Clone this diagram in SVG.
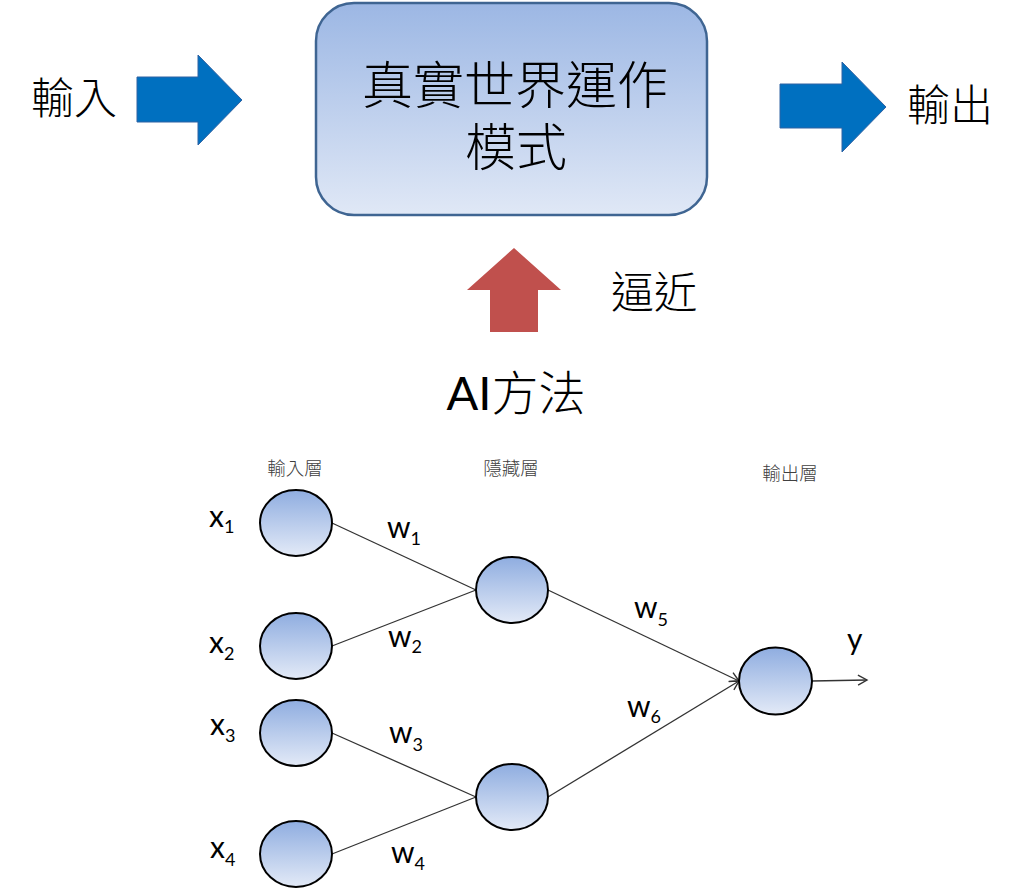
<svg xmlns="http://www.w3.org/2000/svg" width="1024" height="892" viewBox="0 0 1024 892">
<defs>
<linearGradient id="boxGrad" x1="0" y1="0" x2="0" y2="1">
<stop offset="0" stop-color="#9cb7e4"/>
<stop offset="1" stop-color="#e0e8f6"/>
</linearGradient>
<linearGradient id="nodeGrad" x1="0" y1="0" x2="0" y2="1">
<stop offset="0" stop-color="#8fade0"/>
<stop offset="1" stop-color="#e3eaf7"/>
</linearGradient>
<marker id="arr" markerWidth="12" markerHeight="12" refX="10" refY="6" orient="auto" markerUnits="userSpaceOnUse">
<path d="M1,1 L10,6 L1,11" fill="none" stroke="#333" stroke-width="1.4"/>
</marker>
</defs>
<style>
.cjk{font-family:"Noto Sans CJK TC","Noto Sans CJK SC",sans-serif;font-weight:300;fill:#000}
.lat{font-family:Lato,"Noto Sans CJK TC",sans-serif;fill:#000}
.hdr{font-family:"Noto Sans CJK TC",sans-serif;font-weight:300;font-size:18.5px;fill:#404040;text-anchor:middle}
.node{fill:url(#nodeGrad);stroke:#000;stroke-width:2}
.edge{stroke:#333;stroke-width:1.3;fill:none}
.sub{font-size:18px}
</style>
<rect width="1024" height="892" fill="#fff"/>

<g id="top">
<g id="input-label"><text class="cjk" x="31" y="114" font-size="43">輸入</text></g>
<g id="input-arrow"><polygon points="137,77 198,77 198,55 242,100 198,145 198,122 137,122" fill="#0070c0" stroke="#2f62a3" stroke-width="1"/></g>
<g id="world-box">
<rect x="316" y="3" width="391" height="212" rx="38" ry="38" fill="url(#boxGrad)" stroke="#3f6592" stroke-width="2.5"/>
<text class="cjk" font-size="51" text-anchor="middle"><tspan x="515" y="104">真實世界運作</tspan><tspan x="516" y="166">模式</tspan></text>
</g>
<g id="output-arrow"><polygon points="780,84 842,84 842,62 886,107 842,152 842,128 780,128" fill="#0070c0" stroke="#2f62a3" stroke-width="1"/></g>
<g id="output-label"><text class="cjk" x="907" y="121" font-size="43">輸出</text></g>
<g id="approx-arrow"><polygon points="514,248 561,290 538,290 538,332 490,332 490,290 467,290" fill="#c0504d"/></g>
<g id="approx-label"><text class="cjk" x="611" y="308" font-size="43">逼近</text></g>
<g id="ai-label"><text class="lat" x="516" y="410" font-size="47" text-anchor="middle">AI<tspan style="font-family:'Noto Sans CJK TC',sans-serif;font-weight:300">方法</tspan></text></g>
</g>

<g id="headers">
<text class="hdr" x="295" y="475">輸入層</text>
<text class="hdr" x="511" y="475">隱藏層</text>
<text class="hdr" x="790" y="480">輸出層</text>
</g>

<g id="connectors">
<line class="edge" x1="332" y1="523" x2="476" y2="590"/>
<line class="edge" x1="332" y1="646" x2="476" y2="590"/>
<line class="edge" x1="332" y1="733" x2="476" y2="797"/>
<line class="edge" x1="332" y1="854" x2="476" y2="797"/>
<line class="edge" x1="548" y1="590" x2="739" y2="681" marker-end="url(#arr)"/>
<line class="edge" x1="548" y1="797" x2="739" y2="681" marker-end="url(#arr)"/>
<line class="edge" x1="812" y1="681" x2="867" y2="680" marker-end="url(#arr)"/>
</g>

<g id="node-x1"><ellipse class="node" cx="296" cy="523" rx="36" ry="33"/></g>
<g id="node-x2"><ellipse class="node" cx="296" cy="646" rx="36" ry="33"/></g>
<g id="node-x3"><ellipse class="node" cx="296" cy="733" rx="36" ry="33"/></g>
<g id="node-x4"><ellipse class="node" cx="296" cy="854" rx="36" ry="33"/></g>
<g id="node-h1"><ellipse class="node" cx="512" cy="590" rx="36" ry="33"/></g>
<g id="node-h2"><ellipse class="node" cx="512" cy="797" rx="36" ry="33"/></g>
<g id="node-out"><ellipse class="node" cx="775.5" cy="681" rx="36.5" ry="33.5"/></g>

<g id="labels">
<text class="lat" x="209" y="527" font-size="30">x<tspan class="sub" dy="6">1</tspan></text>
<text class="lat" x="209" y="653" font-size="30">x<tspan class="sub" dy="7">2</tspan></text>
<text class="lat" x="210" y="735" font-size="30">x<tspan class="sub" dy="7">3</tspan></text>
<text class="lat" x="210" y="858" font-size="30">x<tspan class="sub" dy="8">4</tspan></text>
<text class="lat" x="387" y="538" font-size="30">w<tspan class="sub" dy="7">1</tspan></text>
<text class="lat" x="388" y="647" font-size="30">w<tspan class="sub" dy="6">2</tspan></text>
<text class="lat" x="389" y="743" font-size="30">w<tspan class="sub" dy="8">3</tspan></text>
<text class="lat" x="391" y="863" font-size="30">w<tspan class="sub" dy="7">4</tspan></text>
<text class="lat" x="634" y="618" font-size="30">w<tspan class="sub" dy="8">5</tspan></text>
<text class="lat" x="627" y="717" font-size="30">w<tspan class="sub" dy="6">6</tspan></text>
<text class="lat" x="847" y="650" font-size="30">y</text>
</g>
</svg>
